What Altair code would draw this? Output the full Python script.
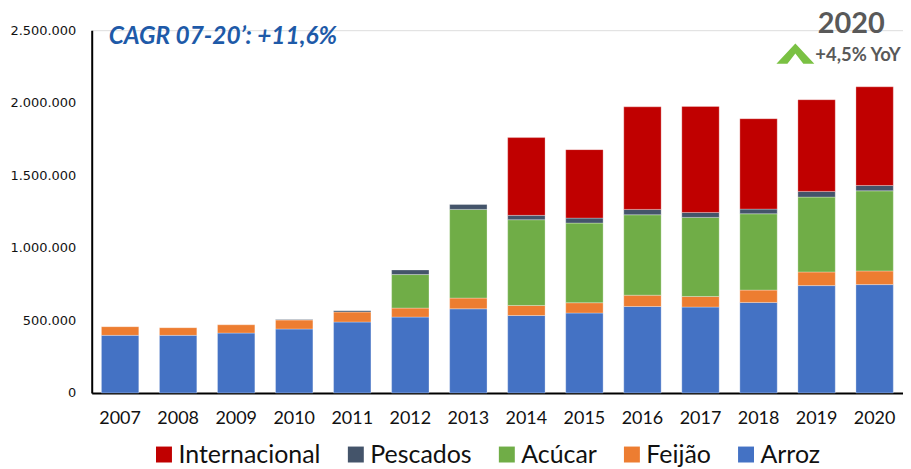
import altair as alt
import pandas as pd

years = ["2007", "2008", "2009", "2010", "2011", "2012", "2013",
         "2014", "2015", "2016", "2017", "2018", "2019", "2020"]
arroz = [397000, 397000, 413000, 441000, 489000, 523000, 580000,
         534000, 551000, 596000, 592000, 624000, 740000, 747000]
feijao = [60000, 53000, 57000, 62000, 69000, 62000, 74000,
          69000, 71000, 78000, 73000, 85000, 94000, 94000]
acucar = [0, 0, 0, 0, 0, 231000, 611000,
          591000, 549000, 554000, 545000, 526000, 516000, 552000]
pescados = [0, 0, 0, 3000, 9000, 32000, 34000,
            30000, 34000, 37000, 34000, 32000, 39000, 37000]
internacional = [0, 0, 0, 0, 0, 0, 0,
                 536000, 472000, 707000, 731000, 623000, 632000, 680000]

categories = ["Internacional", "Pescados", "Acúcar", "Feijão", "Arroz"]
colors = ["#C00000", "#44546A", "#70AD47", "#ED7D31", "#4472C4"]
series = {"Arroz": arroz, "Feijão": feijao, "Acúcar": acucar,
          "Pescados": pescados, "Internacional": internacional}
stack_rank = {"Arroz": 0, "Feijão": 1, "Acúcar": 2, "Pescados": 3, "Internacional": 4}

rows = []
for cat, vals in series.items():
    for y, v in zip(years, vals):
        if v > 0:
            rows.append({"ano": y, "categoria": cat, "valor": v, "rank": stack_rank[cat]})
df = pd.DataFrame(rows)

cagr_text = "CAGR 07-20\u2019: +11,6%"
year_text = "2020"
yoy_text = "+4,5% YoY"

bars = alt.Chart(df).mark_bar(stroke="white", strokeWidth=0.5, strokeOpacity=0.6).encode(
    x=alt.X("ano:N", sort=years, title=None,
            scale=alt.Scale(paddingInner=0.356, paddingOuter=0.167),
            axis=alt.Axis(labelAngle=0, ticks=False, domainColor="black", domainWidth=2,
                          labelFont="Lato", labelFontSize=18, labelColor="#111111",
                          labelPadding=17)),
    y=alt.Y("valor:Q", stack="zero", title=None,
            scale=alt.Scale(domain=[0, 2500000], nice=False),
            axis=alt.Axis(values=[0, 500000, 1000000, 1500000, 2000000, 2500000],
                          grid=False, ticks=False, domainColor="black", domainWidth=2,
                          labelFont="DejaVu Sans", labelFontSize=13, labelColor="#111111",
                          labelPadding=16,
                          labelExpr="replace(format(datum.value, ','), regexp(',', 'g'), '.')")),
    color=alt.Color("categoria:N", title=None,
                    scale=alt.Scale(domain=categories, range=colors),
                    legend=alt.Legend(orient="none", direction="horizontal",
                                      legendX=60, legendY=413,
                                      symbolType="square", symbolSize=256,
                                      symbolStrokeWidth=0, symbolOpacity=1,
                                      labelFont="Lato", labelFontSize=25,
                                      labelColor="#111111", labelOffset=2,
                                      columnPadding=22.5, labelLimit=300)),
    order=alt.Order("rank:Q", sort="ascending"),
)

anno = pd.DataFrame({"k": [0]})

cagr = alt.Chart(anno).mark_text(
    text=cagr_text, font="Lato", fontSize=24.5, fontWeight="bold", fontStyle="italic",
    color="#1E5AA8", align="left", baseline="alphabetic"
).encode(x=alt.value(17), y=alt.value(13.5))

big_year = alt.Chart(anno).mark_text(
    text=year_text, font="Lato", fontSize=29, fontWeight="bold",
    color="#595959", align="center", baseline="alphabetic"
).encode(x=alt.value(762), y=alt.value(3))

yoy = alt.Chart(anno).mark_text(
    text=yoy_text, font="Lato", fontSize=18.5, fontWeight="bold",
    color="#595959", align="left", baseline="alphabetic"
).encode(x=alt.value(726), y=alt.value(31))

chevron = alt.Chart(anno).mark_point(
    shape="M0,-0.54 L1,0.54 L0.42,0.54 L0,0.0 L-0.42,0.54 L-1,0.54 Z",
    filled=True, color="#7AC143", opacity=1, size=1444, strokeWidth=0
).encode(x=alt.value(706), y=alt.value(23.5))

chart = alt.layer(bars, cagr, big_year, yoy, chevron).properties(
    width=814, height=364,
    autosize=alt.AutoSizeParams(type="none"),
    padding={"left": 84, "top": 21.5, "right": 0, "bottom": 76},
).configure_view(stroke=None).configure(background="white")

chart.save("out.html", embed_options={"renderer": "svg", "actions": False})
